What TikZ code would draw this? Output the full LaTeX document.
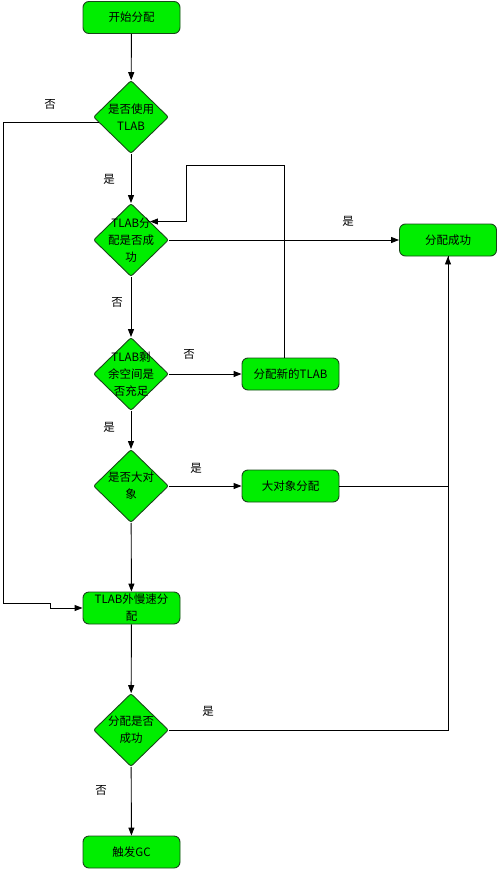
\documentclass[tikz,border=0pt]{standalone}
\usepackage{fontspec}
\setmainfont{Noto Sans CJK SC}
\usetikzlibrary{shapes.geometric,arrows.meta,calc}
\definecolor{fillg}{RGB}{0,238,0}
\definecolor{edgeg}{RGB}{25,70,25}
\begin{document}
\begin{tikzpicture}[x=1pt,y=-1pt,
  fnt/.style={font=\fontsize{11.5pt}{17pt}\selectfont},
  box/.style={fnt, draw=edgeg, fill=fillg, rounded corners=6pt, minimum width=97pt, minimum height=32pt, inner sep=0pt, align=center, line width=0.9pt},
  dia/.style={diamond, draw=edgeg, fill=fillg, minimum width=75pt, minimum height=73pt, inner sep=0pt, rounded corners=2pt, line width=0.9pt},
  txt/.style={fnt, align=center, inner sep=0pt},
  lab/.style={fnt, inner sep=0pt},
  arr/.style={-{Triangle[length=8pt,width=6pt]}, line width=0.9pt},
  ln/.style={line width=0.9pt}]
\useasboundingbox (0,0) rectangle (497,869);
% nodes
\node[box] (start) at (131.5,17.5) {开始分配};
\node[dia] (d1) at (131,117) {};
\node[txt] (t1) at (d1) {是否使用\\TLAB};
\node[dia] (d2) at (131,240) {};
\node[txt] (t2) at (d2) {TLAB分\\配是否成\\功};
\node[box] (succ) at (448,240) {分配成功};
\node[dia] (d3) at (131,374) {};
\node[txt] (t3) at (d3) {TLAB剩\\余空间是\\否充足};
\node[box] (newtlab) at (290.5,374) {分配新的TLAB};
\node[dia] (d4) at (131,486) {};
\node[txt] (t4) at (d4) {是否大对\\象};
\node[box] (big) at (290.5,486) {大对象分配};
\node[box] (slow) at (131.5,608) {TLAB外慢速分\\配};
\node[dia] (d5) at (131,730) {};
\node[txt] (t5) at (d5) {分配是否\\成功};
\node[box] (gc) at (131.5,852) {触发GC};
% labels
\node[lab] (l1) at (50,104) {否};
\node[lab] (l2) at (109,179) {是};
\node[lab] (l3) at (348,221) {是};
\node[lab] (l4) at (117,302) {否};
\node[lab] (l5) at (189,354) {否};
\node[lab] (l6) at (109,427) {是};
\node[lab] (l7) at (196,468) {是};
\node[lab] (l8) at (208,711) {是};
\node[lab] (l9) at (101,790) {否};
% helper coordinates
\coordinate (lj1) at (3,603);
\coordinate (lj2) at (50,603);
\coordinate (lj3) at (50,608);
\coordinate (loopc) at (186,165);
\coordinate (nt) at (284,358);
% connectors
\draw[arr] (start) -- (d1);
\draw[arr] (d1) -- (d2);
\draw[arr] (d2) -- (d3);
\draw[arr] (d3) -- (d4);
\draw[arr] (d4) -- (slow);
\draw[arr] (slow) -- (d5);
\draw[arr] (d5) -- (gc);
\draw[arr] (d2.east) -- (succ.west);
\draw[arr] (d3.east) -- (newtlab.west);
\draw[arr] (d4.east) -- (big.west);
\draw[arr] (nt) |- (loopc) |- (d2.north east);
\draw[arr] (d1.190) -| (lj1) -- (lj2) -- (lj3) -- (slow.west);
\draw[ln] (big.east) -| (succ.south);
\draw[arr] (d5.east) -| (succ.south);
\end{tikzpicture}
\end{document}
